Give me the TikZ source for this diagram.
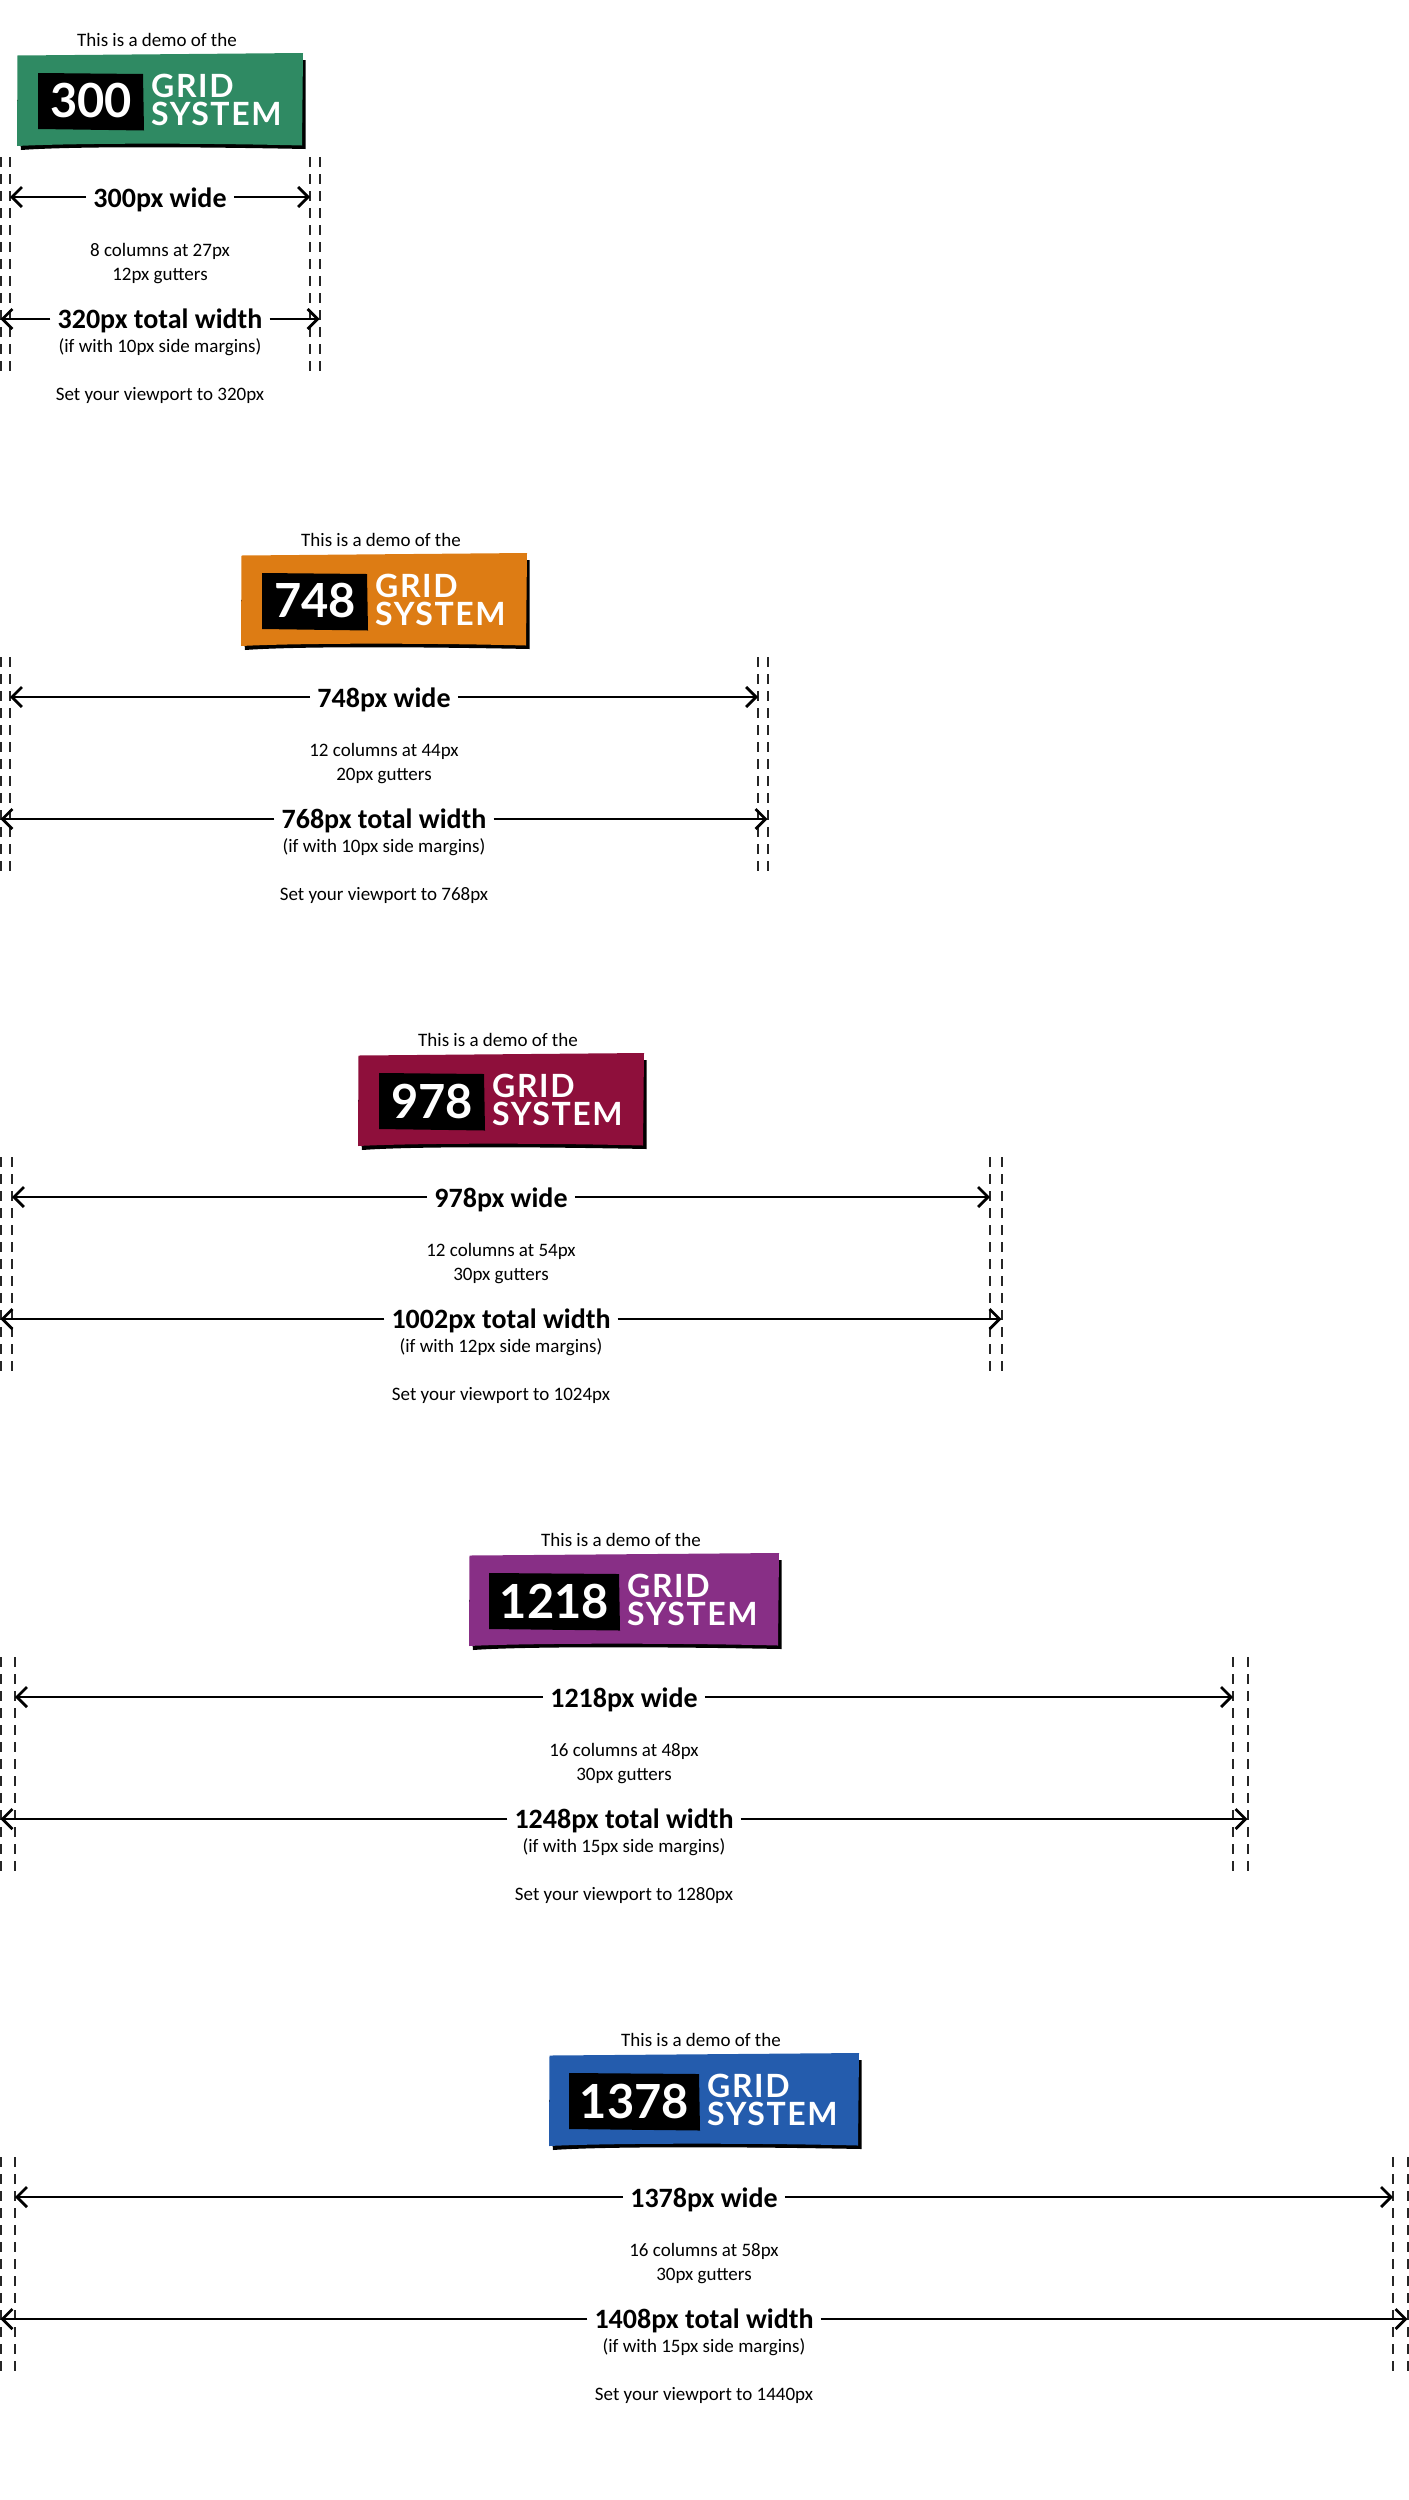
\documentclass[tikz,border=0pt]{standalone}
\usepackage{fontspec}
\setmainfont{Carlito}
\newfontfamily\logofont{Lato}
\newfontfamily\logowide[LetterSpace=5]{Lato}
\usetikzlibrary{arrows.meta}
\definecolor{gridgreen}{HTML}{2F8A63}
\definecolor{gridorange}{HTML}{DD7C14}
\definecolor{gridmaroon}{HTML}{8E0F3B}
\definecolor{gridpurple}{HTML}{882F86}
\definecolor{gridblue}{HTML}{245CAD}
\tikzset{
    smalltext/.style={inner sep=0pt, font=\fontsize{19}{19}\selectfont},
    bigtext/.style={inner ysep=0pt, inner xsep=7pt, font=\bfseries\fontsize{28}{28}\selectfont},
    guide/.style={line width=1.4pt, draw=black!85, dash pattern=on 10pt off 7pt},
    dimline/.style={line width=2.8pt, -{Straight Barb[length=10pt,width=20pt,line width=2.8pt]}},
    numtext/.style={inner sep=0pt, text=white, font=\logofont\bfseries\fontsize{47}{47}\selectfont},
    logotext/.style={inner sep=0pt, anchor=base west, text=white, font=\logowide\bfseries\fontsize{32}{32}\selectfont}
}
\begin{document}
\begin{tikzpicture}[x=1pt,y=-1pt]
    \useasboundingbox (0,0) rectangle (1408,2500);
    \foreach \num/\mrg/\total/\cols/\colw/\gut/\view/\col/\hw/\bl/\br [count=\i from 0] in {
        300/10/320/8/27/12/320/gridgreen/143/122/16,
        748/10/768/12/44/20/768/gridorange/143/122/16,
        978/12/1002/12/54/30/1024/gridmaroon/143/122/16,
        1218/15/1248/16/48/30/1280/gridpurple/155/135/4,
        1378/15/1408/16/58/30/1440/gridblue/155/135/4} {
    \pgfmathsetmacro{\cx}{\mrg+\num/2}
    \pgfmathsetmacro{\xb}{\mrg+\num}
    \begin{scope}[yshift=-\i*500pt]
    % logo
    \begin{scope}[xshift=\cx pt]
    \node[smalltext] (demo_\i) at (-3,40) {This is a demo of the};
    \fill[black] (-\hw+4,150) .. controls (-\hw+60,146) and (\hw-100,147) .. (\hw+2.5,149) -- (\hw+2.5,60) -- (\hw,60) -- (-\hw,100) -- cycle;
    \fill[\col] (-\hw+0.5,55.5) -- (\hw,53) -- (\hw-1,145.5) .. controls (\hw-100,143) and (-\hw+60,143) .. (-\hw,146) -- cycle;
    \fill[black] (-\bl,73) -- (-\br-1,74) -- (-\br,130.5) -- (-\bl,129) -- cycle;
    \node[numtext] (num_\i) at ({-(\bl+\br)/2},101) {\num};
    \node[logotext] (grid_\i) at (-\br+7,97) {GRID};
    \node[logotext] (system_\i) at (-\br+7,125) {SYSTEM};
    \end{scope}
    % guides
    \draw[guide] (1,157) coordinate (g_a\i) -- (1,372);
    \draw[guide] (\mrg,157) -- (\mrg,372);
    \draw[guide] (\xb,157) -- (\xb,372);
    \draw[guide] (\xb+\mrg,157) -- (\xb+\mrg,372);
    \coordinate (wl_\i) at (\mrg,197);
    \coordinate (wr_\i) at (\xb,197);
    \coordinate (tl_\i) at (0.5,319);
    \coordinate (tr_\i) at (\xb+\mrg-0.5,319);
    % labels
    \node[bigtext] (wide_\i) at (\cx,200) {\num px wide};
    \node[smalltext] (cols_\i) at (\cx,251) {\cols{} columns at \colw px};
    \node[smalltext] (gut_\i) at (\cx,276) {\gut px gutters};
    \node[bigtext] (tot_\i) at (\cx,321) {\total px total width};
    \node[smalltext] (marg_\i) at (\cx,347) {(if with \mrg px side margins)};
    \node[smalltext] (view_\i) at (\cx,395) {Set your viewport to \view px};
    % arrows
    \draw[dimline] (wide_\i.west |- wl_\i) -- (wl_\i);
    \draw[dimline] (wide_\i.east |- wr_\i) -- (wr_\i);
    \draw[dimline] (tot_\i.west |- tl_\i) -- (tl_\i);
    \draw[dimline] (tot_\i.east |- tr_\i) -- (tr_\i);
    \end{scope}
    }
\end{tikzpicture}
\end{document}
